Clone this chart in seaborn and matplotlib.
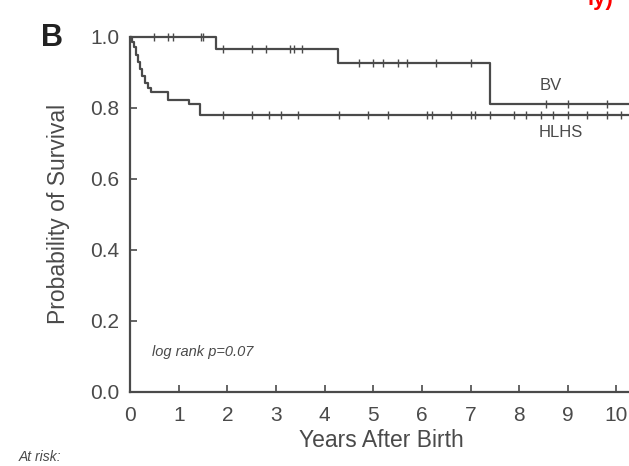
import numpy as np
import pandas as pd
import matplotlib
matplotlib.use("Agg")
import matplotlib.pyplot as plt
import seaborn as sns

# Kaplan-Meier steps (years, survival)
bv_t = [0.0, 1.76, 4.27, 7.4, 10.35]
bv_s = [1.0, 0.965, 0.925, 0.812, 0.812]
bv_cens = [0.48, 0.77, 0.87, 1.45, 1.5, 1.9, 2.5, 2.8, 3.28, 3.36, 3.53,
           4.7, 5.0, 5.2, 5.5, 5.7, 6.3, 7.0, 8.55, 9.0, 9.8]

hlhs_t = [0.0, 0.04, 0.08, 0.12, 0.16, 0.2, 0.25, 0.3, 0.36, 0.42,
          0.78, 1.2, 1.43, 10.35]
hlhs_s = [1.0, 0.985, 0.97, 0.95, 0.93, 0.91, 0.89, 0.87, 0.855, 0.845,
          0.822, 0.81, 0.78, 0.78]
hlhs_cens = [1.9, 2.5, 2.85, 3.1, 3.45, 4.3, 4.9, 5.3, 6.1, 6.2, 6.6, 7.0,
             7.1, 7.4, 7.9, 8.15, 8.45, 8.7, 9.0, 9.4, 9.8, 10.1]

xticks = list(range(0, 11))
yticks = [0.0, 0.2, 0.4, 0.6, 0.8, 1.0]

df = pd.concat([
    pd.DataFrame({"years": bv_t, "surv": bv_s, "group": "BV"}),
    pd.DataFrame({"years": hlhs_t, "surv": hlhs_s, "group": "HLHS"}),
])


def surv_at(times, t, s):
    idx = np.searchsorted(t, times, side="right") - 1
    return np.array(s)[idx]


cens = pd.concat([
    pd.DataFrame({"years": bv_cens, "surv": surv_at(bv_cens, bv_t, bv_s)}),
    pd.DataFrame({"years": hlhs_cens, "surv": surv_at(hlhs_cens, hlhs_t, hlhs_s)}),
])

sns.set_style("ticks")
plt.rcParams["font.family"] = ["Liberation Sans", "DejaVu Sans"]
ink = "#4a4a4a"

fig = plt.figure(figsize=(6.29, 4.66), dpi=100)
ax = fig.add_axes([0.207, 0.159, 0.80, 0.762])

sns.lineplot(data=df, x="years", y="surv", units="group", estimator=None,
             drawstyle="steps-post", color=ink, lw=1.6, ax=ax, clip_on=False)
sns.scatterplot(data=cens, x="years", y="surv", marker="|", s=30, color=ink,
                linewidth=1.0, ax=ax, clip_on=False, legend=False)

ax.set_xlim(0, 10.35)
ax.set_ylim(0, 1.0)
ax.set_xticks(xticks)
ax.set_yticks(yticks)
ax.set_yticklabels([f"{v:.1f}" for v in yticks])
ax.tick_params(direction="in", length=5, width=1.2, colors=ink, labelsize=15,
               pad=8)
ax.tick_params(axis="x", pad=10)
for side in ["left", "bottom"]:
    ax.spines[side].set_linewidth(1.6)
    ax.spines[side].set_color(ink)
sns.despine(ax=ax)

ax.set_xlabel("Years After Birth", fontsize=16.5, color=ink, labelpad=3)
ax.set_ylabel("Probability of Survival", fontsize=16.5, color=ink, labelpad=14)

ax.text(8.65, 0.862, "BV", fontsize=12, color=ink, ha="center", va="center")
ax.text(8.86, 0.73, "HLHS", fontsize=12, color=ink, ha="center", va="center")
ax.text(0.45, 0.113, "log rank p=0.07", fontsize=10.5, style="italic",
        color=ink, ha="left", va="center")

fig.text(0.083, 0.918, "B", fontsize=22, fontweight="bold", color="#222",
         ha="center", va="center")
fig.text(0.029, 0.02, "At risk:", fontsize=10, style="italic", color=ink,
         ha="left", va="center")
fig.text(0.955, 1.0, "ly)", fontsize=16, fontweight="bold", color="red",
         ha="center", va="center")

fig.savefig("out.png", dpi=100)
